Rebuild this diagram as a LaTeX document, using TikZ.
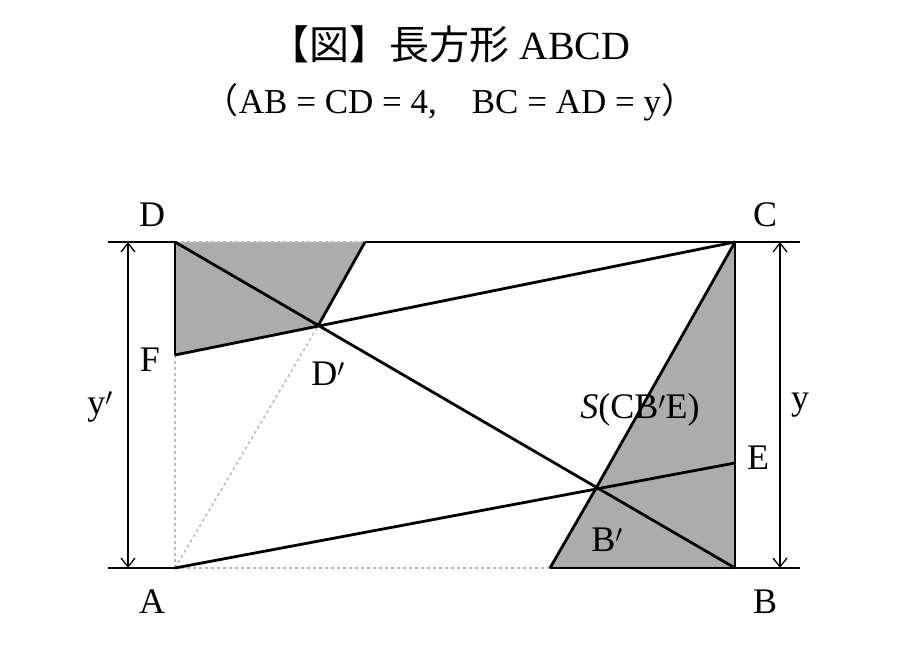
\documentclass[tikz,border=0pt]{standalone}
\usepackage{fontspec}
\setmainfont{Liberation Serif}
\newfontfamily\cjk{Noto Sans CJK JP}
\usetikzlibrary{arrows.meta}
\tikzset{
  edge/.style={line width=2.8pt, line join=round},
  guide/.style={dashed, gray!55, line width=1.5pt},
  shade/.style={fill=gray!65},
  lbl/.style={font=\fontsize{36}{36}\selectfont},
  dim/.style={line width=1.3pt, {Straight Barb[length=9pt,width=14pt]}-{Straight Barb[length=9pt,width=14pt]}}
}
\begin{document}
\begin{tikzpicture}[x=1pt,y=-1pt]
   \useasboundingbox (0,0) rectangle (901,659);

   \coordinate (A) at (175,568);
   \coordinate (B) at (735,568);
   \coordinate (C) at (735,242);
   \coordinate (D) at (175,242);
   \coordinate (F) at (175,355);
   \coordinate (E) at (735,463);
   \coordinate (Dp) at (318,326);
   \coordinate (Bp) at (595,490);
   \coordinate (G) at (365,242);
   \coordinate (H) at (550,568);

   % shaded parts
   \fill [shade] (D) -- (G) -- (Dp) -- (F) -- cycle;
   \fill [shade] (C) -- (B) -- (H) -- (Bp) -- cycle;

   % folds
   \draw [guide] (D) -- (G);
   \draw [guide] (A) -- (F);
   \draw [guide] (A) -- (H);
   \draw [guide] (A) -- (Dp);

   \draw [edge] (G) -- (C) -- (B) -- (H);
   \draw [edge] (D) -- (F);
   \draw [edge] (F) -- (C);
   \draw [edge] (D) -- (B);
   \draw [edge] (A) -- (E);
   \draw [edge] (G) -- (Dp);
   \draw [edge] (C) -- (Bp) -- (H);

   % dimensions
   \draw [line width=1.3pt] (108,242) -- (D) (108,568) -- (A);
   \draw [line width=1.3pt] (C) -- (800,242) (B) -- (800,568);
   \coordinate (L1) at (128,242);
   \coordinate (L2) at (128,568);
   \coordinate (R1) at (780,242);
   \coordinate (R2) at (780,568);
   \draw [dim] (L1) -- (L2);
   \draw [dim] (R1) -- (R2);

   % labels
   \node (lD) at (152,215) [lbl] {D};
   \node (lC) at (765,215) [lbl] {C};
   \node (lA) at (152,602) [lbl] {A};
   \node (lB) at (765,602) [lbl] {B};
   \node (lF) at (150,360) [lbl] {F};
   \node (lE) at (758,458) [lbl] {E};
   \node (lDp) at (328,374) [lbl] {D$'$};
   \node (lBp) at (607,540) [lbl] {B$'$};
   \node (ly) at (100,407) [lbl] {y$'$};
   \node (lyy) at (800,405) [lbl] {y};
   \node (lS) at (640,410) [lbl] {\textit{S}(CB$'$E)};

   % title
   \node (title) at (450,44) [font=\fontsize{40}{40}\selectfont] {{\cjk 【図】長方形} ABCD};
   \node (sub) at (450,102) [font=\fontsize{35}{35}\selectfont] {{\cjk （}AB = CD = 4,\quad BC = AD = y{\cjk ）}};
\end{tikzpicture}
\end{document}
